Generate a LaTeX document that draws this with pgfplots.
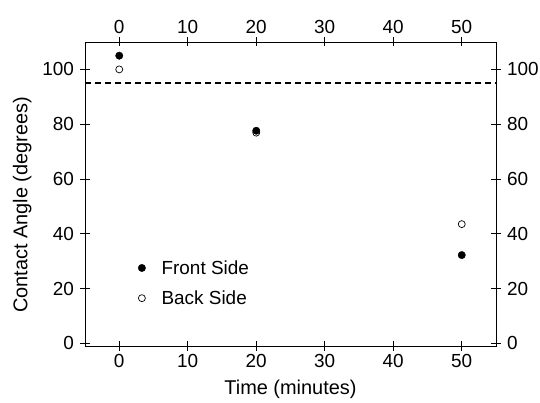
\documentclass[border=0pt]{standalone}
\usepackage{fontspec}
\setmainfont{Liberation Sans}
\usepackage{pgfplots}
\pgfplotsset{compat=1.18}

\pgfplotsset{
  contactbox/.style={
    scale only axis,
    width=411bp, height=304bp,
    xmin=-5, xmax=55, ymin=-1, ymax=110,
    xtick={0,10,...,50}, ytick={0,20,...,100},
    tick align=center, major tick length=9bp,
    tick style={black, line width=0.7bp},
    axis line style={black, line width=0.8bp},
    ticklabel style={font=\fontsize{19}{22}\selectfont},
    /pgf/number format/assume math mode=true,
  },
}

\begin{document}
\begin{tikzpicture}[x=1bp,y=1bp]
\begin{axis}[
  contactbox,
  yticklabel style={xshift=-3bp},
  xlabel={Time (minutes)},
  ylabel={Contact Angle (degrees)},
  label style={font=\fontsize{20}{23}\selectfont},
  xlabel style={at={(axis description cs:0.5,-0.143)}, anchor=center},
  ylabel style={at={(axis description cs:-0.153,0.464)}, anchor=center},
  legend style={at={(axis cs:2.3,31.8)}, anchor=north west, draw=none, fill=none,
    font=\fontsize{19}{22}\selectfont, row sep=11bp, column sep=14bp},
  legend cell align=left,
]
% dashed reference line at 95 degrees
\addplot[black, line width=2.8bp, dash pattern=on 6bp off 4bp, forget plot]
  coordinates {(-5,95) (55,95)};
\addplot[only marks, mark=*, mark size=3.7bp, mark options={fill=black, draw=black}]
  coordinates {(0,105) (20,77.6) (50,32.2)};
\addplot[only marks, mark=o, mark size=3.5bp, mark options={draw=black, line width=0.7bp, fill=white}]
  coordinates {(0,100) (20,76.9) (50,43.5)};
\legend{Front Side, Back Side}
% left and bottom lines are grey in the original
\draw[gray!80, line width=0.9bp] (rel axis cs:0,1) -- (rel axis cs:0,0) -- (rel axis cs:1,0);
\end{axis}
\begin{axis}[
  contactbox,
  xticklabel pos=upper,
  yticklabel pos=right,
  yticklabel style={xshift=3bp},
]
\end{axis}
\pgfresetboundingbox
\path[use as bounding box] (-85bp,-57bp) rectangle (455bp,346bp);
\end{tikzpicture}
\end{document}
